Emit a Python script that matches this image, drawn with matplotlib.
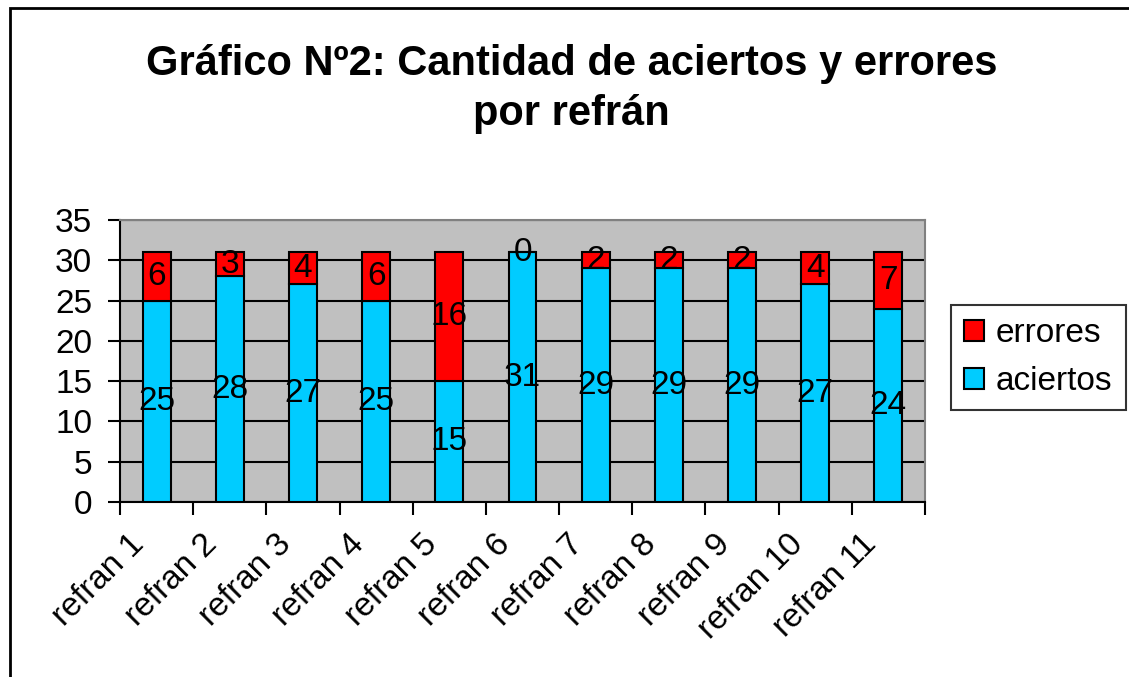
import matplotlib.pyplot as plt
from matplotlib.patches import Rectangle
from matplotlib.transforms import ScaledTranslation
import numpy as np

plt.rcParams['font.family'] = ['Liberation Sans', 'DejaVu Sans']

# datos del grafico
refranes = ['refran 1', 'refran 2', 'refran 3', 'refran 4', 'refran 5', 'refran 6',
            'refran 7', 'refran 8', 'refran 9', 'refran 10', 'refran 11']
aciertos = [25, 28, 27, 25, 15, 31, 29, 29, 29, 27, 24]
errores = [6, 3, 4, 6, 16, 0, 2, 2, 2, 4, 7]

fig = plt.figure(figsize=(11.29, 6.77), dpi=100)
ax = fig.add_axes([0.1063, 0.2585, 0.713, 0.4165])

# marco exterior
fig.patches.append(Rectangle((10/1129, -0.05), 1.1, 1 - 8/677 + 0.05, transform=fig.transFigure,
                             fill=False, edgecolor='black', linewidth=2))

x = np.arange(len(refranes))
w = 0.38
b1 = ax.bar(x, aciertos, w, color='#00CCFF', edgecolor='black', linewidth=1.5, label='aciertos', zorder=3)
b2 = ax.bar(x, errores, w, bottom=aciertos, color='#FF0000', edgecolor='black', linewidth=1.5,
            label='errores', zorder=3)

for i in range(len(x)):
    ax.text(x[i], aciertos[i] / 2, str(aciertos[i]), ha='center', va='center', fontsize=24, zorder=4)
    ax.text(x[i], aciertos[i] + errores[i] / 2, str(errores[i]), ha='center', va='center',
            fontsize=24, zorder=4)

ax.set_facecolor('#C0C0C0')
ax.set_xlim(-0.5, len(x) - 0.5)
ax.set_ylim(0, 35)
ax.set_yticks(range(0, 36, 5))
ax.yaxis.grid(True, color='black', linewidth=1.5, zorder=0)
ax.tick_params(axis='y', labelsize=24, length=9, width=1.5, direction='out', pad=11)

ax.set_xticks(np.arange(-0.5, len(x), 1))
ax.set_xticklabels([])
ax.tick_params(axis='x', length=9, width=1.5, direction='out')
ax.set_xticks(x, minor=True)
ax.set_xticklabels(refranes, minor=True, rotation=45, ha='right', va='center',
                   rotation_mode='anchor', fontsize=24)
ax.tick_params(axis='x', which='minor', length=0, pad=27)
for lab in ax.get_xticklabels(minor=True):
    lab.set_transform(lab.get_transform() + ScaledTranslation(-17/100, 0, fig.dpi_scale_trans))

for s in ax.spines.values():
    s.set_linewidth(1.5)
ax.spines['top'].set_color('#808080')
ax.spines['right'].set_color('#808080')

fig.text(0.506, 0.935, 'Gráfico Nº2: Cantidad de aciertos y errores\npor refrán', ha='center', va='top',
         fontsize=30, fontweight='bold', linespacing=1.32)

leg = ax.legend(handles=[b2, b1], labels=['errores', 'aciertos'], loc='center left',
                bbox_to_anchor=(1.032, 0.512), fontsize=24, frameon=True, fancybox=False,
                edgecolor='black', handlelength=0.6, handleheight=0.6, handletextpad=0.35,
                borderpad=0.4, borderaxespad=0, labelspacing=0.5)
leg.get_frame().set_linewidth(1.5)

fig.savefig('out.png', dpi=100)
